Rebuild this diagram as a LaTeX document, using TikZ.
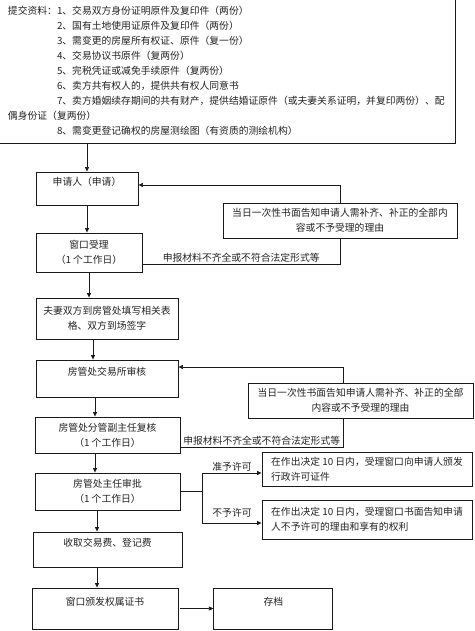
\documentclass[tikz,border=0pt]{standalone}
\usepackage{fontspec}
\setmainfont{Noto Sans CJK SC}
\usetikzlibrary{arrows.meta,positioning}
\definecolor{ink}{HTML}{222222}
\definecolor{rule}{HTML}{1A1A1A}
\tikzset{
  flow/.style={draw=rule, line width=0.9pt, inner sep=0pt, align=center, text=ink,
               font=\fontsize{9.8}{15}\selectfont},
  note/.style={draw=rule, line width=0.9pt, inner sep=0pt, text=ink,
               font=\fontsize{9.8}{15}\selectfont},
  lnk/.style={draw=rule, line width=0.7pt},
  ch/.style={lnk, -{Triangle[length=4.5pt,width=4pt]}},
  tag/.style={font=\fontsize{9.8}{12}\selectfont, text=ink, inner sep=1pt},
}

\begin{document}
\begin{tikzpicture}[x=1pt, y=-1pt]
    \useasboundingbox (0,0) rectangle (474,631);
    \clip (0,0) rectangle (474,631);
    % material list
    \node[note, align=left, text width=437pt, inner xsep=10pt, minimum height=145pt] (docs) at (226.5,70.5)
      {提交资料：1、交易双方身份证明原件及复印件（两份）\\
       \phantom{提交资料：}2、国有土地使用证原件及复印件（两份）\\
       \phantom{提交资料：}3、需变更的房屋所有权证、原件（复一份）\\
       \phantom{提交资料：}4、交易协议书原件（复两份）\\
       \phantom{提交资料：}5、完税凭证或减免手续原件（复两份）\\
       \phantom{提交资料：}6、卖方共有权人的，提供共有权人同意书\\
       \phantom{提交资料：}7、卖方婚姻续存期间的共有财产，提供结婚证原件（或夫妻关系证明，并复印两份）、配\\
       偶身份证（复两份）\\
       \phantom{提交资料：}8、需变更登记确权的房屋测绘图（有资质的测绘机构）};
    % main column
    \node[flow, minimum width=102pt, minimum height=33pt] (apply) at (87,188.5) {申请人（申请）\\\mbox{}};
    \node[flow, minimum width=106pt, minimum height=39pt] (accept) at (89,252.5) {窗口受理\\（1 个工作日）};
    \node[flow, minimum width=142pt, minimum height=41pt] (sign) at (107,318.5) {夫妻双方到房管处填写相关表\\格、双方到场签字};
    \node[flow, minimum width=142pt, minimum height=37pt] (audit) at (107,378.5) {房管处交易所审核\\\mbox{}};
    \node[flow, minimum width=145pt, minimum height=36pt] (review) at (107.5,435) {房管处分管副主任复核\\（1 个工作日）};
    \node[flow, minimum width=145pt, minimum height=37pt] (approve) at (107.5,491.5) {房管处主任审批\\（1 个工作日）};
    \node[flow, minimum width=149pt, minimum height=35pt] (fee) at (107.5,549.5) {收取交易费、登记费\\\mbox{}};
    \node[flow, minimum width=146pt, minimum height=41pt] (issue) at (105,608.5) {窗口颁发权属证书\\\mbox{}};
    \node[flow, minimum width=119pt, minimum height=41pt, right=35pt of issue] (archive) {存档\\\mbox{}};
    % side notes
    \node[flow, minimum width=234pt, minimum height=35pt] (fb1) at (340,220.5) {当日一次性书面告知申请人需补齐、补正的全部内\\容或不予受理的理由};
    \node[flow, minimum width=225pt, minimum height=35pt] (fb2) at (360.5,400.5) {当日一次性书面告知申请人需补齐、补正的全部\\内容或不予受理的理由};
    \node[flow, align=left, minimum width=210pt, minimum height=34pt] (grant) at (367,469) {在作出决定 10 日内，受理窗口向申请人颁发\\行政许可证件};
    \node[flow, align=left, minimum width=210pt, minimum height=39pt] (deny) at (367,519.5) {在作出决定 10 日内，受理窗口书面告知申请\\人不予许可的理由和享有的权利};
    \coordinate[right=22pt of approve] (fork);

    \draw[ch] (docs.south -| apply.north) -- (apply.north);
    \draw[ch] (apply.south) -- (apply.south |- accept.north);
    \draw[ch] (accept.south) -- (accept.south |- sign.north);
    \draw[ch] ([xshift=-14pt]sign.south) -- ([xshift=-14pt]audit.north);
    \draw[ch] ([xshift=-12pt]audit.south) -- ([xshift=-12.5pt]review.north);
    \draw[ch] ([xshift=-12.5pt]review.south) -- ([xshift=-12.5pt]approve.north);
    \draw[ch] ([xshift=-10.5pt]approve.south) -- ([xshift=-10.5pt]fee.north);
    \draw[ch] ([xshift=-10.5pt]fee.south) -- ([xshift=-10.5pt]fee.south |- issue.north);
    \draw[ch] ([xshift=2pt]issue.east) -- (archive.west);

    \draw[lnk] ([yshift=-11.5pt]accept.east) -| (fb1.south)
      node[tag, pos=0.25, above] (short1) {申报材料不齐全或不符合法定形式等};
    \draw[ch] (fb1.north) |- ([yshift=3.5pt]apply.east);
    \draw[lnk] ([yshift=-12pt]review.east) -| ([xshift=-17.5pt]fb2.south)
      node[tag, pos=0.25, above] (short2) {申报材料不齐全或不符合法定形式等};
    \draw[ch] ([xshift=-17.5pt]fb2.north) |- ([yshift=11.5pt]audit.east);

    \draw[lnk] (approve.east) -- (fork);
    \draw[ch] (fork) |- ([yshift=-4pt]grant.west) node[tag, pos=0.75, above] (yes) {准予许可};
    \draw[ch] (fork) |- ([yshift=-3.5pt]deny.west) node[tag, pos=0.75, above=4pt] (no) {不予许可};
  \end{tikzpicture}
\end{document}
